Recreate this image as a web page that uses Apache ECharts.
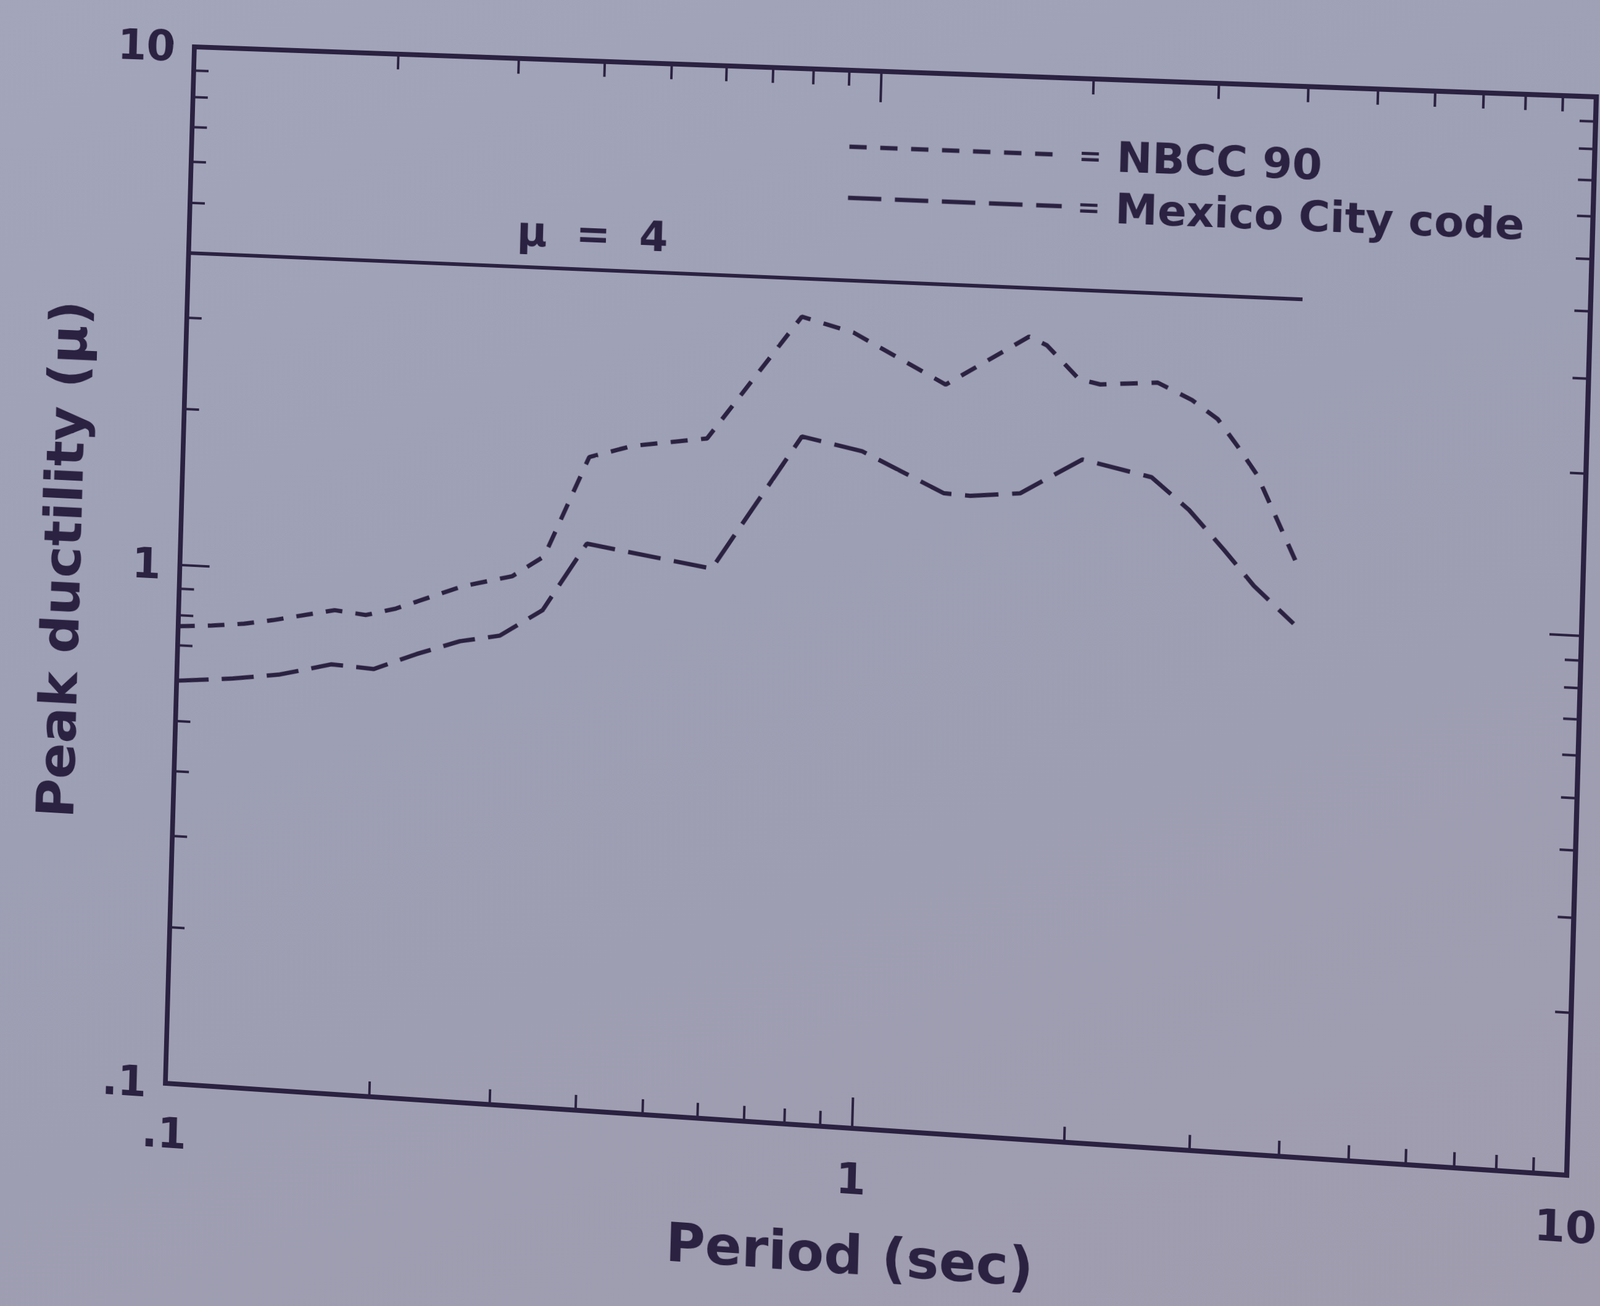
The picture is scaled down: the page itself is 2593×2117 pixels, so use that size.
<!DOCTYPE html>
<html>
<head>
<meta charset="utf-8">
<script src="https://cdn.jsdelivr.net/npm/echarts@6/dist/echarts.min.js"></script>
<style>
  html, body { margin: 0; padding: 0; width: 2593px; height: 2117px; overflow: hidden;
    background: linear-gradient(160deg, #a3a5ba 0%, #9d9fb4 45%, #a09cae 100%); }
  #chart { position: absolute; left: 0; top: 0; width: 2800px; height: 2300px; transform-origin: 0 0; }
</style>
</head>
<body>
<div id="chart"></div>
<script>
// ---------------- data ----------------
const seriesNames = ['NBCC 90', 'Mexico City code'];

const nbccPeriod    = [0.10, 0.112, 0.125, 0.138, 0.170, 0.189, 0.209, 0.261, 0.308, 0.342, 0.394, 0.455, 0.582, 0.787, 0.935, 1.27, 1.66, 1.76, 1.96, 2.10, 2.53, 2.83, 3.08, 3.29, 3.51, 3.68, 4.0];
const nbccDuctility = [0.762, 0.770, 0.782, 0.800, 0.848, 0.836, 0.866, 0.970, 1.025, 1.126, 1.758, 1.863, 1.954, 3.387, 3.19, 2.59, 3.24, 3.13, 2.72, 2.67, 2.72, 2.54, 2.35, 2.10, 1.865, 1.637, 1.30];

const mexicoPeriod    = [0.10, 0.121, 0.142, 0.169, 0.195, 0.225, 0.260, 0.297, 0.342, 0.394, 0.598, 0.796, 0.972, 1.275, 1.39, 1.634, 1.995, 2.50, 2.83, 3.18, 3.51, 4.0];
const mexicoDuctility = [0.598, 0.612, 0.630, 0.667, 0.660, 0.712, 0.761, 0.787, 0.889, 1.202, 1.107, 2.009, 1.906, 1.615, 1.606, 1.64, 1.923, 1.806, 1.58, 1.339, 1.155, 0.99];

const limitPeriod    = [0.1, 4.0];
const limitDuctility = [4, 4];
const limitLabel     = 'μ  =  4';

const xTickLabels = ['.1', '1', '10'];
const yTickLabels = ['.1', '1', '10'];
const minorTickValues = [0.2, 0.3, 0.4, 0.5, 0.6, 0.7, 0.8, 0.9, 2, 3, 4, 5, 6, 7, 8, 9];

// ---------------- layout / style ----------------
const INK = '#2b2140';
const FONT = 'DejaVu Sans';
const GRID = { left: 291, top: 116, width: 2272, height: 1714 };
const AX = { min: 0.1, max: 10 };
const limitLabelAnchor = [0.39, 4.69];

// perspective of the photographed page: map the plot rectangle onto the photographed frame
const srcQuad = [[GRID.left, GRID.top], [GRID.left + GRID.width, GRID.top],
                 [GRID.left + GRID.width, GRID.top + GRID.height], [GRID.left, GRID.top + GRID.height]];
const dstQuad = [[315, 76], [2587, 157], [2539, 1905], [268, 1756]];

function solveHomography(src, dst) {
  const A = [], b = [];
  for (let i = 0; i < 4; i++) {
    const [x, y] = src[i], [X, Y] = dst[i];
    A.push([x, y, 1, 0, 0, 0, -x * X, -y * X]); b.push(X);
    A.push([0, 0, 0, x, y, 1, -x * Y, -y * Y]); b.push(Y);
  }
  const n = 8;
  for (let c = 0; c < n; c++) {
    let p = c;
    for (let r = c + 1; r < n; r++) if (Math.abs(A[r][c]) > Math.abs(A[p][c])) p = r;
    [A[c], A[p]] = [A[p], A[c]]; [b[c], b[p]] = [b[p], b[c]];
    for (let r = 0; r < n; r++) {
      if (r === c) continue;
      const f = A[r][c] / A[c][c];
      for (let k = c; k < n; k++) A[r][k] -= f * A[c][k];
      b[r] -= f * b[c];
    }
  }
  return b.map((v, i) => v / A[i][i]);
}
const h = solveHomography(srcQuad, dstQuad);
const el = document.getElementById('chart');
el.style.transform = `matrix3d(${h[0]},${h[3]},0,${h[6]},${h[1]},${h[4]},0,${h[7]},0,0,1,0,${h[2]},${h[5]},0,1)`;

// ---------------- chart ----------------
const chart = echarts.init(el, null, { renderer: 'svg' });

const pairs = (xs, ys) => xs.map((x, i) => [x, ys[i]]);
const labelFor = (arr) => (v) => arr[Math.round(Math.log10(v)) + 1] || '';

const minorTickData = [];
minorTickValues.forEach(v => {
  minorTickData.push([v, AX.min, 0]);   // bottom
  minorTickData.push([v, AX.max, 1]);   // top
  minorTickData.push([AX.min, v, 2]);   // left
  minorTickData.push([AX.max, v, 3]);   // right
});

const axisLineStyle = { color: INK, width: 8, cap: 'square' };
const axisTickStyle = { show: true, inside: true, length: 50, lineStyle: { color: INK, width: 4 } };
const labelStyle = { color: INK, fontFamily: FONT, fontWeight: 'bold', fontSize: 70 };
const nameStyle = { color: INK, fontFamily: FONT, fontWeight: 'bold', fontSize: 88 };

const baseLog = { type: 'log', logBase: 10, min: AX.min, max: AX.max, splitNumber: 2, splitLine: { show: false },
  axisLine: { show: true, onZero: false, lineStyle: axisLineStyle }, axisTick: axisTickStyle };

const hiddenSymbol = { color: 'rgba(0,0,0,0)', borderColor: 'rgba(0,0,0,0)', borderWidth: 0, opacity: 0 };

const option = {
  animation: false,
  backgroundColor: 'transparent',
  grid: Object.assign({ containLabel: false, outerBoundsMode: 'none' }, GRID),
  legend: {
    data: [
      { name: seriesNames[0], lineStyle: { type: [28, 22], width: 7, color: INK }, itemStyle: hiddenSymbol },
      { name: seriesNames[1], lineStyle: { type: [54, 22], width: 7, color: INK }, itemStyle: hiddenSymbol }
    ],
    orient: 'vertical', left: 1370, top: 200,
    itemWidth: 345, itemHeight: 40, itemGap: 13,
    textStyle: {
      color: INK, fontFamily: FONT, fontWeight: 'bold', fontSize: 68, lineHeight: 70,
      rich: { eq: { fontFamily: FONT, fontWeight: 'bold', fontSize: 44, color: INK, padding: [0, 24, 0, 20] } }
    },
    formatter: (name) => '{eq|=}' + name,
    selectedMode: false
  },
  xAxis: [
    Object.assign({}, baseLog, {
      position: 'bottom',
      name: 'Period (sec)', nameLocation: 'middle', nameGap: 160, nameTextStyle: nameStyle,
      axisLabel: Object.assign({ margin: 47, showMinLabel: true, showMaxLabel: true, formatter: labelFor(xTickLabels) }, labelStyle)
    }),
    Object.assign({}, baseLog, { position: 'top', axisLabel: { show: false } })
  ],
  yAxis: [
    Object.assign({}, baseLog, {
      position: 'left',
      name: 'Peak ductility (μ)', nameLocation: 'middle', nameGap: 155, nameTextStyle: nameStyle,
      axisLabel: Object.assign({ margin: 32, showMinLabel: true, showMaxLabel: true, formatter: labelFor(yTickLabels) }, labelStyle)
    }),
    Object.assign({}, baseLog, { position: 'right', axisLabel: { show: false } })
  ],
  series: [
    {
      name: seriesNames[0], type: 'line', data: pairs(nbccPeriod, nbccDuctility),
      symbol: 'none', lineStyle: { color: INK, width: 7, type: [28, 22] }, itemStyle: { color: INK }
    },
    {
      name: seriesNames[1], type: 'line', data: pairs(mexicoPeriod, mexicoDuctility),
      symbol: 'none', lineStyle: { color: INK, width: 7, type: [54, 22] }, itemStyle: { color: INK }
    },
    {
      name: 'limit', type: 'line', data: pairs(limitPeriod, limitDuctility),
      symbol: 'none', lineStyle: { color: INK, width: 6, type: 'solid' }, itemStyle: { color: INK }
    },
    {
      name: 'limitLabel', type: 'scatter', data: [limitLabelAnchor], symbolSize: 1,
      itemStyle: { color: 'rgba(0,0,0,0)', opacity: 1 }, silent: true,
      label: { show: true, position: 'inside', formatter: limitLabel, color: INK, opacity: 1,
               fontFamily: FONT, fontWeight: 'bold', fontSize: 68, textBorderWidth: 0 }
    },
    {
      name: 'minorTicks', type: 'custom', data: minorTickData, clip: false, silent: true,
      encode: { x: 0, y: 1 },
      renderItem: (params, api) => {
        const p = api.coord([api.value(0), api.value(1)]);
        const L = 25;
        const d = [[0, -L], [0, L], [L, 0], [-L, 0]][api.value(2)];
        return { type: 'line', shape: { x1: p[0], y1: p[1], x2: p[0] + d[0], y2: p[1] + d[1] },
                 style: { stroke: INK, lineWidth: 4 } };
      }
    }
  ]
};
chart.setOption(option);
</script>
</body>
</html>
